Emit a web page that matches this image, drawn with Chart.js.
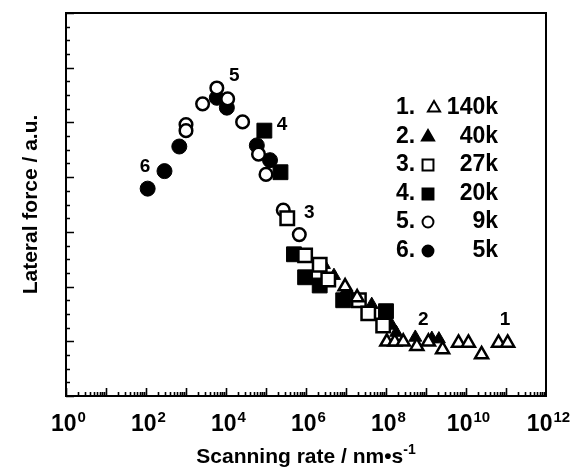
<!DOCTYPE html>
<html>
<head>
<meta charset="utf-8">
<script src="https://cdn.jsdelivr.net/npm/chart.js@4/dist/chart.umd.min.js"></script>
<style>
  html, body { margin: 0; padding: 0; background: #fff; }
  #wrap { width: 573px; height: 473px; }
</style>
</head>
<body>
<div id="wrap"><canvas id="myChart" width="573" height="473"></canvas></div>
<script>
// tick labels of the log axis
const xTickValues = [1, 1e2, 1e4, 1e6, 1e8, 1e10, 1e12];
const xTickExponents = ["0", "2", "4", "6", "8", "10", "12"];

// legend
const legendNumbers = ["1.", "2.", "3.", "4.", "5.", "6."];
const legendLabels = ["140k", "40k", "27k", "20k", "9k", "5k"];

// 1. 140k (open triangles)
const s140kX = [9.5e6, 1.9e7, 1.05e8, 1.66e8, 2.7e8, 5.9e8, 1.15e9, 2.6e9, 6.5e9, 1.15e10, 2.45e10, 6.5e10, 1.1e11];
const s140kY = [2.0, 1.8, 0.99, 0.99, 0.99, 0.91, 0.99, 0.85, 0.97, 0.97, 0.76, 0.97, 0.97];
// 2. 40k (filled triangles)
const s40kX = [2.8e6, 5e6, 1.05e7, 4.4e7, 1.4e8, 1.8e8, 5.4e8, 1.4e9, 2.1e9];
const s40kY = [2.4, 2.2, 1.95, 1.67, 1.29, 1.16, 1.07, 1.05, 1.04];
// 3. 27k (open squares)
const s27kX = [3.4e5, 9.5e5, 2.2e6, 3.6e6, 2.1e7, 3.6e7, 8.5e7];
const s27kY = [3.25, 2.57, 2.4, 2.13, 1.75, 1.51, 1.29];
// 4. 20k (filled squares)
const s20kX = [9.1e4, 2.3e5, 5e5, 9.5e5, 2.2e6, 8.5e6, 1e8];
const s20kY = [4.85, 4.09, 2.59, 2.17, 2.02, 1.75, 1.55];
// 5. 9k (open circles)
const s9kX = [1e3, 1e3, 2.6e3, 5.9e3, 1.1e4, 2.6e4, 6.5e4, 1e5, 2.7e5, 6.8e5];
const s9kY = [4.96, 4.85, 5.34, 5.63, 5.43, 5.01, 4.42, 4.05, 3.4, 2.95];
// 6. 5k (filled circles)
const s5kX = [1.1e2, 2.9e2, 6.8e2, 5.9e3, 1.05e4, 5.9e4, 1.26e5];
const s5kY = [3.79, 4.11, 4.56, 5.45, 5.27, 4.58, 4.31];

// curve numbers written next to each series
const curveLabels = ["1", "2", "3", "4", "5", "6"];
const curveLabelX = [9.5e10, 8.5e8, 1.2e6, 2.5e5, 1.6e4, 95];
const curveLabelY = [1.39, 1.39, 3.35, 4.95, 5.85, 4.19];

const FONT = '"Liberation Sans", Arial, sans-serif';

function pts(xs, ys) {
  return xs.map((v, i) => ({ x: v, y: ys[i] }));
}

function series(label, xs, ys, style, filled, radius) {
  return {
    label: label,
    data: pts(xs, ys),
    pointStyle: style,
    pointRadius: radius,
    pointHoverRadius: radius,
    backgroundColor: filled ? "#000" : "#fff",
    borderColor: "#000",
    borderWidth: filled ? 1 : 2.5,
    order: filled ? 1 : 0,
  };
}

function marker(ctx, style, filled, cx, cy, r) {
  ctx.beginPath();
  if (style === "triangle") {
    ctx.moveTo(cx, cy - r);
    ctx.lineTo(cx + r * 0.866, cy + r * 0.5);
    ctx.lineTo(cx - r * 0.866, cy + r * 0.5);
    ctx.closePath();
  } else if (style === "rect") {
    const s = r * 0.78;
    ctx.rect(cx - s, cy - s, 2 * s, 2 * s);
  } else {
    ctx.arc(cx, cy, r * 0.78, 0, Math.PI * 2);
  }
  ctx.fillStyle = filled ? "#000" : "#fff";
  ctx.fill();
  ctx.lineWidth = 2;
  ctx.strokeStyle = "#000";
  ctx.stroke();
}

const legendStyles = ["triangle", "triangle", "rect", "rect", "circle", "circle"];
const legendFilled = [false, true, false, true, false, true];

const framePlugin = {
  id: "frameTicks",
  beforeDatasetsDraw(chart) {
    const { ctx, chartArea: a, scales: { x, y } } = chart;
    ctx.save();
    ctx.strokeStyle = "#000";
    ctx.lineWidth = 2;
    ctx.strokeRect(a.left, a.top, a.right - a.left, a.bottom - a.top);

    ctx.lineWidth = 1.6;
    ctx.beginPath();
    for (let e = 0; e < 12; e++) {
      for (let m = 1; m < 10; m++) {
        const px = Math.round(x.getPixelForValue(m * Math.pow(10, e))) + 0.5;
        const len = m === 1 ? 8 : 4;
        ctx.moveTo(px, a.bottom);
        ctx.lineTo(px, a.bottom - len);
      }
    }
    for (let i = 0; i <= 28; i++) {
      const py = Math.round(y.getPixelForValue(i * 0.25)) + 0.5;
      const len = i % 4 === 0 ? 8 : 4;
      ctx.moveTo(a.left, py);
      ctx.lineTo(a.left + len, py);
    }
    ctx.stroke();
    ctx.restore();
  },
  afterDraw(chart) {
    const { ctx, chartArea: a, scales: { x, y } } = chart;
    ctx.save();
    ctx.fillStyle = "#000";
    ctx.textBaseline = "alphabetic";

    // x tick labels 10^n
    xTickValues.forEach((v, i) => {
      const px = x.getPixelForValue(v);
      ctx.font = "bold 23px " + FONT;
      const w1 = ctx.measureText("10").width;
      ctx.font = "bold 15px " + FONT;
      const w2 = ctx.measureText(xTickExponents[i]).width;
      const start = px - (w1 + w2) / 2 + 2;
      ctx.textAlign = "left";
      ctx.font = "bold 23px " + FONT;
      ctx.fillText("10", start, 431);
      ctx.font = "bold 15px " + FONT;
      ctx.fillText(xTickExponents[i], start + w1 + 1, 422);
    });

    // x title
    const t1 = "Scanning rate / nm\u2022s";
    const t2 = "-1";
    ctx.font = "bold 21px " + FONT;
    const tw1 = ctx.measureText(t1).width;
    ctx.font = "bold 14px " + FONT;
    const tw2 = ctx.measureText(t2).width;
    const cx = (a.left + a.right) / 2;
    const tx = cx - (tw1 + tw2) / 2;
    ctx.font = "bold 21px " + FONT;
    ctx.fillText(t1, tx, 463);
    ctx.font = "bold 14px " + FONT;
    ctx.fillText(t2, tx + tw1, 454);

    // y title
    ctx.save();
    ctx.translate(31, (a.top + a.bottom) / 2);
    ctx.rotate(-Math.PI / 2);
    ctx.textAlign = "center";
    ctx.textBaseline = "middle";
    ctx.font = "bold 21px " + FONT;
    ctx.fillText("Lateral force / a.u.", 0, 0);
    ctx.restore();

    // curve numbers
    ctx.font = "bold 19px " + FONT;
    ctx.textAlign = "center";
    ctx.textBaseline = "middle";
    curveLabels.forEach((t, i) => {
      ctx.fillText(t, x.getPixelForValue(curveLabelX[i]), y.getPixelForValue(curveLabelY[i]));
    });

    // legend
    const rowY = [108, 137, 165, 194, 222, 251];
    legendLabels.forEach((t, i) => {
      const ry = rowY[i];
      ctx.font = "bold 23px " + FONT;
      ctx.textBaseline = "middle";
      ctx.textAlign = "left";
      ctx.fillText(legendNumbers[i], 396, ry);
      ctx.textAlign = "right";
      ctx.fillText(t, 498, ry);
      marker(ctx, legendStyles[i], legendFilled[i], i === 0 ? 434 : 428, ry, 7);
      ctx.fillStyle = "#000";
    });
    ctx.restore();
  },
};

const ctx = document.querySelector("#myChart").getContext("2d");
const chart = new Chart(ctx, {
  type: "scatter",
  data: {
    datasets: [
      series("140k", s140kX, s140kY, "triangle", false, 7.5),
      series("40k", s40kX, s40kY, "triangle", true, 7.5),
      series("27k", s27kX, s27kY, "rect", false, 9.5),
      series("20k", s20kX, s20kY, "rect", true, 10.5),
      series("9k", s9kX, s9kY, "circle", false, 6.3),
      series("5k", s5kX, s5kY, "circle", true, 7.5),
    ],
  },
  options: {
    responsive: false,
    animation: false,
    devicePixelRatio: 1,
    events: [],
    layout: { padding: { left: 66, right: 27, top: 13, bottom: 77 } },
    scales: {
      x: { type: "logarithmic", min: 1, max: 1e12, display: false },
      y: { type: "linear", min: 0, max: 7, display: false },
    },
    plugins: {
      legend: { display: false },
      tooltip: { enabled: false },
    },
  },
  plugins: [framePlugin],
});
</script>
</body>
</html>
